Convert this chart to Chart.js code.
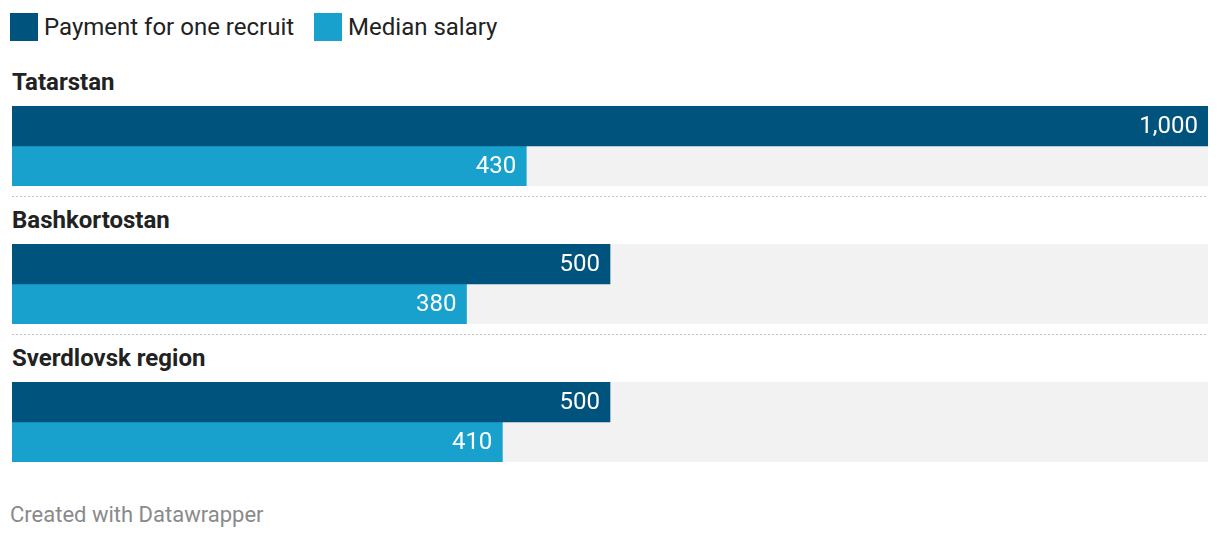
<!DOCTYPE html>
<html>
<head>
<meta charset="utf-8">
<script src="https://cdn.jsdelivr.net/npm/chart.js@4/dist/chart.umd.min.js"></script>
<style>
  body { margin: 0; background: #fff; font-family: Roboto, "Noto Sans", sans-serif; }
  #wrap { position: relative; width: 1220px; height: 540px; }
  .legend { position: absolute; top: 12px; left: 10px; font-size: 24px; line-height: 30px; color: #222; display: flex; }
  .legend span { display: flex; align-items: center; margin-right: 20px; }
  .legend i { display: inline-block; width: 28px; height: 28px; margin-right: 6px; }
  .title { position: absolute; left: 12px; font-size: 24px; line-height: 28px; font-weight: 700; color: #222; }
  .sep { position: absolute; left: 12px; width: 1196px; height: 1px;
         background: repeating-linear-gradient(to right, #c4c4c4 0 2px, transparent 2px 4px); }
  .box { position: absolute; left: 0; width: 1220px; height: 80px; }
  .foot { position: absolute; left: 10px; top: 501px; font-size: 22px; line-height: 28px; color: #8a8a8a; }
</style>
</head>
<body>
<div id="wrap">
  <div class="legend" id="legend"></div>
  <div class="foot">Created with Datawrapper</div>
</div>
<script>
// Data
const regions   = ['Tatarstan', 'Bashkortostan', 'Sverdlovsk region'];
const payment   = [1000, 500, 500];
const salary    = [430, 380, 410];
const seriesNames  = ['Payment for one recruit', 'Median salary'];
const seriesColors = ['#00537c', '#18a1cd'];
const maxValue = 1000;

const wrap = document.getElementById('wrap');

// legend
const legendEl = document.getElementById('legend');
seriesNames.forEach( ( name, i ) => {
    const s = document.createElement('span');
    s.innerHTML = '<i style="background:' + seriesColors[i] + '"></i>' + name;
    legendEl.appendChild(s);
});

// gray track behind bars
const trackPlugin = {
    id: 'track',
    beforeDatasetsDraw(chart) {
        const a = chart.chartArea, c = chart.ctx;
        c.save();
        c.fillStyle = '#f2f2f2';
        c.fillRect(a.left, a.top, a.right - a.left, a.bottom - a.top);
        c.restore();
    }
};

// value labels inside bar ends
const valuePlugin = {
    id: 'values',
    afterDatasetsDraw(chart) {
        const c = chart.ctx;
        c.save();
        c.font = '24px Roboto';
        c.fillStyle = '#fff';
        c.textAlign = 'right';
        c.textBaseline = 'middle';
        chart.data.datasets.forEach( ( ds, i ) => {
            chart.getDatasetMeta(i).data.forEach( ( bar, j ) => {
                c.fillText(ds.data[j].toLocaleString('en-US'), bar.x - 10, bar.y + 1);
            });
        });
        c.restore();
    }
};

const groupTop = 106, groupStep = 138;

regions.forEach( ( region, k ) => {
    const top = groupTop + k * groupStep;

    const t = document.createElement('div');
    t.className = 'title';
    t.style.top = (top - 38) + 'px';
    t.textContent = region;
    wrap.appendChild(t);

    if ( k > 0 ) {
        const s = document.createElement('div');
        s.className = 'sep';
        s.style.top = (top - 48) + 'px';
        wrap.appendChild(s);
    }

    const box = document.createElement('div');
    box.className = 'box';
    box.style.top = top + 'px';
    const cv = document.createElement('canvas');
    box.appendChild(cv);
    wrap.appendChild(box);

    new Chart(cv, {
        type: 'bar',
        data: {
            labels: [region],
            datasets: [
                { label: seriesNames[0], data: [payment[k]], backgroundColor: seriesColors[0] },
                { label: seriesNames[1], data: [salary[k]], backgroundColor: seriesColors[1] }
            ]
        },
        options: {
            indexAxis: 'y',
            animation: false,
            responsive: true,
            maintainAspectRatio: false,
            devicePixelRatio: 1,
            layout: { padding: { left: 12, right: 12, top: 0, bottom: 0 } },
            datasets: { bar: { categoryPercentage: 1, barPercentage: 1, borderWidth: 0 } },
            scales: {
                x: { display: false, min: 0, max: maxValue },
                y: { display: false }
            },
            plugins: { legend: { display: false }, tooltip: { enabled: false } }
        },
        plugins: [trackPlugin, valuePlugin]
    });
});
</script>
</body>
</html>
